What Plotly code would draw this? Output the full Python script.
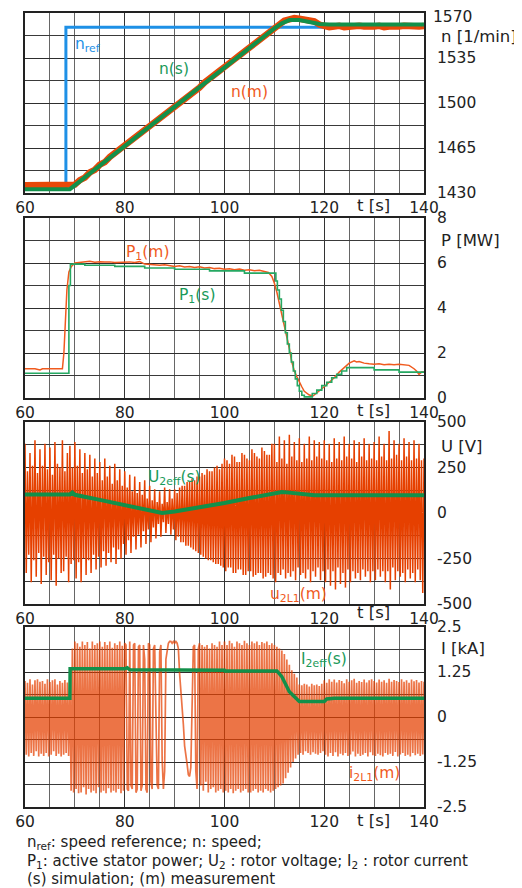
import numpy as np
import plotly.graph_objects as go

# ---------------- data ----------------
# Panel 1: speed
t_nref = [60, 68.2, 68.2, 140]
n_ref = [1433, 1433, 1559, 1559]

t_ns = [60, 69, 110, 111.5, 113, 115, 117, 119, 121, 140]
n_s = [1433, 1433, 1558, 1562, 1564.5, 1564.5, 1563, 1561.5, 1561, 1561]

t_nm = list(range(60, 141))
n_m = [1436, 1436, 1436.5, 1436, 1436, 1435.5, 1436, 1436, 1436, 1436,
       1436.5, 1440, 1442, 1446, 1448, 1452, 1454, 1458, 1461, 1463,
       1467, 1470, 1472, 1476.5, 1479, 1482, 1485.5, 1488, 1491.5, 1494,
       1497.5, 1500, 1503.5, 1506.5, 1509.5, 1512, 1516, 1518.5, 1521.5, 1525,
       1528, 1530.5, 1534, 1537, 1540, 1543, 1546, 1549, 1552, 1555,
       1558.5, 1562, 1564, 1565, 1566, 1565.5, 1565, 1564.5, 1563.5, 1561,
       1559.5, 1559, 1559.5, 1560, 1559, 1559.5, 1559, 1560, 1559.5, 1559,
       1559.5, 1560, 1559, 1559.5, 1559, 1559.5, 1560, 1559.5, 1559, 1559.5, 1560]

# Panel 2: active stator power
t_ps = [60, 68.8, 69.1, 72, 78, 84, 90, 97, 104, 110.3, 110.6, 111, 111.4, 111.8,
        112.2, 112.6, 113, 113.4, 113.8, 114.2, 114.6, 115, 115.5, 116, 117.6, 118.5,
        119.5, 120.5, 121.5, 122.5, 123.5, 124.5, 130, 135, 140]
p_s = [1.1, 5.0, 5.95, 5.9, 5.85, 5.78, 5.72, 5.65, 5.55, 5.2, 4.8, 4.4, 3.9, 3.4,
       2.9, 2.4, 2.0, 1.6, 1.2, 0.85, 0.55, 0.3, 0.12, 0.05, 0.2, 0.35,
       0.55, 0.7, 0.9, 1.05, 1.2, 1.35, 1.25, 1.15, 1.15]

t_pm = [60, 62, 63, 63.5, 64, 67.5, 67.8, 68.1, 68.4, 68.8, 69.3, 70, 71, 72, 73, 74, 75,
        76, 77, 78, 79, 80, 81, 82, 83, 84, 85, 86, 87, 88, 89, 90, 91, 92, 93, 94, 95,
        96, 97, 98, 99, 100, 101, 102, 103, 104, 105, 106, 107, 108, 108.8, 109.5, 110,
        110.5, 111, 111.5, 112, 112.5, 113, 113.5, 114, 114.5, 115, 115.5, 116, 117, 117.8,
        119, 120, 121, 122, 123, 124, 125, 126, 126.5, 127, 128, 129, 130, 131, 132, 133,
        134, 135, 136, 137, 138, 138.5, 139, 139.5, 140]
p_m = [1.3, 1.3, 1.25, 1.3, 1.3, 1.3, 2.0, 3.5, 4.8, 5.6, 5.85, 6.0, 6.02, 6.05, 6.08, 6.03, 6.06,
       6.04, 6.05, 6.02, 6.04, 6.03, 6.05, 6.02, 6.06, 5.95, 5.93, 5.94, 5.9, 5.92, 5.88, 5.85, 5.88, 5.82, 5.84, 5.8, 5.83,
       5.78, 5.8, 5.75, 5.77, 5.72, 5.74, 5.7, 5.73, 5.68, 5.7, 5.66, 5.68, 5.62, 5.58, 5.4, 5.1,
       4.7, 4.2, 3.8, 3.3, 2.8, 2.2, 1.6, 1.2, 0.95, 0.7, 0.5, 0.3, 0.13, 0.1,
       0.3, 0.5, 0.7, 0.9, 1.15, 1.35, 1.55, 1.65, 1.6, 1.62, 1.55, 1.52, 1.5, 1.52, 1.48, 1.5,
       1.48, 1.5, 1.48, 1.45, 1.3, 1.2, 1.05, 1.15, 1.15]

# Panel 3: rotor voltage (measured peaks every 0.5 s, upper then lower)
u_upper = [380, 230, 330, 260, 400, 220, 350, 260, 380, 240, 360, 210, 390, 270, 250, 400, 230, 330, 370, 250,
           390, 260, 350, 220, 330, 240, 320, 200, 300, 220, 280, 180, 300, 200, 260, 160, 270, 180, 240, 150,
           230, 140, 210, 120, 200, 110, 170, 100, 180, 80, 150, 70, 130, 60, 120, 50, 140, 60, 130, 80,
           130, 110, 140, 150, 150, 170, 170, 190, 180, 200, 200, 220, 210, 240, 230, 230, 250, 260, 240, 270,
           300, 290, 270, 320, 310, 280, 280, 330, 320, 300, 290, 350, 330, 310, 300, 360, 340, 320, 320, 380,
           380, 280, 420, 300, 400, 270, 430, 310, 390, 290, 410, 280, 380, 300, 420, 290, 400, 310, 390, 300,
           400, 290, 380, 280, 410, 300, 390, 290, 420, 310, 380, 300, 400, 280, 390, 310, 410, 290, 380, 300,
           390, 290, 420, 310, 380, 290, 450, 300, 400, 320, 380, 290, 410, 310, 390, 290, 400, 300, 380, 290, 300]
u_lower = [-330, -230, -380, -260, -350, -220, -390, -240, -340, -270, -370, -230, -400, -250, -330, -320, -240, -380, -280, -260,
           -360, -270, -380, -250, -340, -260, -330, -230, -310, -240, -300, -210, -290, -220, -270, -190, -280, -200, -250, -170,
           -230, -150, -220, -130, -200, -120, -190, -100, -170, -90, -160, -80, -140, -60, -130, -50, -110, -60, -120, -90,
           -150, -130, -160, -160, -180, -180, -190, -200, -210, -220, -230, -240, -250, -260, -260, -270, -280, -280, -290, -300,
           -320, -300, -300, -330, -330, -310, -310, -340, -340, -320, -320, -350, -340, -330, -330, -360, -350, -330, -340, -360,
           -380, -330, -340, -310, -360, -330, -350, -320, -370, -300, -340, -330, -360, -310, -380, -320, -350, -300, -370, -320,
           -380, -310, -400, -320, -420, -300, -390, -330, -410, -310, -380, -320, -360, -330, -370, -310, -350, -320, -380, -320,
           -370, -310, -350, -320, -380, -320, -420, -300, -370, -320, -350, -330, -380, -310, -360, -330, -380, -310, -370, -440, -300]

t_us = [60, 69, 69.5, 70, 75, 80, 85, 87.5, 90, 95, 100, 105, 110, 111.5, 113, 118, 140]
u_s = [102, 102, 112, 100, 72, 45, 15, 0, 8, 30, 55, 82, 105, 115, 112, 98, 97]

# Panel 4: rotor current (measured, every 0.25 s)
i_m = [1.0, -1.05, 0.95, -1.1, 1.05, -1.0, 0.9, -1.08, 1.02, -0.95, 1.05, -1.1, 0.98, -1.02, 1.0, -1.08, 0.92, -1.0, 1.05, -1.1,
       0.97, -1.05, 1.02, -0.95, 1.05, -1.08, 0.9, -1.02, 1.0, -1.1, 0.95, -1.05, 1.03, -1.0, 0.96, -1.08, 1.0, -2.05, 1.9, -2.1,
       2.1, -2.0, 2.05, -2.12, 1.95, -2.1, 2.1, -1.95, 2.0, -2.15, 2.08, -2.0, 1.9, -2.1, 2.1, -2.05, 2.0, -2.12, 2.05, -1.95,
       2.1, -2.1, 1.95, -2.05, 2.08, -2.12, 2.0, -1.98, 2.1, -2.1, 1.92, -2.05, 2.05, -2.1, 2.0, -2.0, 2.1, -2.12, 1.98, -2.05,
       2.05, 2.0, -2.0, -2.05, 2.1, -1.9, -2.0, 2.0, 2.05, -2.1, -2.0, 1.95, 2.0, -2.05, -1.9, 2.0, 1.6, -2.0, -2.1, 2.05,
       2.0, -1.8, -2.0, 1.9, 2.0, 0.5, -1.9, -2.0, 1.8, 2.0, -1.2, -2.0, -1.5, 1.6, 1.9, 2.05, 2.1, 2.1, 2.05, 2.1,
       2.05, 2.1, 2.05, 1.9, 1.2, 0.8, 0.3, -0.2, -0.8, -1.0, -1.3, -1.6, -1.65, -1.4, 0.2, 1.95, 2.0, -1.5, -2.0, 1.9,
       2.05, -1.9, 2.0, -2.05, 1.95, -1.8, 2.0, -2.1, 1.9, -2.0, 2.05, -1.95, 2.0, -2.1, 1.95, -2.05, 2.1, -2.0, 2.0, -2.1,
       2.1, -2.05, 2.0, -2.1, 2.12, -2.0, 2.05, -2.12, 1.95, -2.05, 2.1, -2.0, 2.05, -2.1, 2.0, -2.05, 2.12, -2.0, 2.05, -2.1,
       2.0, -2.1, 2.1, -2.05, 2.05, -2.0, 2.1, -2.1, 2.0, -2.05, 2.08, -2.1, 2.05, -2.0, 2.1, -2.05, 2.0, -2.1, 2.05, -2.05,
       2.0, -2.0, 1.95, -1.95, 1.9, -1.9, 1.85, -1.85, 1.75, -1.7, 1.6, -1.55, 1.45, -1.4, 1.3, -1.25, 1.2, -1.15, 1.1, -1.05,
       0.9, -1.0, 0.88, -1.05, 0.92, -0.95, 0.9, -1.0, 0.85, -1.05, 0.92, -0.98, 0.88, -1.02, 0.9, -1.05, 0.86, -1.0, 0.92, -0.95,
       1.02, -1.05, 0.95, -1.1, 1.05, -1.0, 0.98, -1.08, 1.04, -0.98, 0.96, -1.1, 1.03, -1.02, 1.0, -1.06, 0.94, -1.0, 1.05, -1.08,
       0.98, -1.04, 1.02, -0.96, 1.06, -1.1, 0.95, -1.02, 1.0, -1.08, 0.97, -1.05, 1.04, -1.0, 0.96, -1.1, 1.02, -0.98, 1.05, -1.06,
       1.0, -1.08, 0.96, -1.02, 1.04, -1.06, 0.98, -1.1, 1.02, -1.0, 0.95, -1.05, 1.06, -1.02, 0.98, -1.08, 1.03, -0.97, 1.0, -1.1,
       0.97, -1.04, 1.05, -1.0, 0.98, -1.08, 1.02, -1.05, 0.95, -1.1, 1.04, -1.0, 0.99, -1.06, 1.03, -1.02, 0.96, -1.08, 1.0, -1.04,
       0.98]

t_is = [60, 69, 69.05, 80, 80.5, 81, 100, 100.1, 110.5, 111.5, 113, 115, 120, 120.5, 122, 140]
i_s = [0.52, 0.52, 1.34, 1.34, 1.37, 1.31, 1.3, 1.28, 1.28, 1.12, 0.7, 0.43, 0.43, 0.5, 0.52, 0.52]

x_ticks = [60, 80, 100, 120, 140]
y1_ticks = [1430, 1465, 1500, 1535]      # top label "1570" drawn as a note (page edge)
y1_top_label = "1570"
y2_ticks = [0, 2, 4, 6, 8]
y3_ticks = [-500, -250, 0, 250, 500]
y4_ticks = [-2.5, -1.25, 0, 1.25, 2.5]

# ---------------- sampling grids for measured signals ----------------
t_u = []
u_m = []
for k in range(len(u_upper)):
    t_u += [60 + 0.5 * k, 60.25 + 0.5 * k]
    u_m += [u_upper[k], u_lower[k]]
t_i = list(60 + 0.25 * np.arange(len(i_m)))

# ---------------- style ----------------
OFF = 8                      # page body margin of the browser
W, H = 522 - OFF, 888 - OFF
FONT = "DejaVu Sans"
RED = "#e84808"
RED2 = "#f05a1e"
GREEN = "#12904a"
GREEN2 = "#25a862"
BLUE = "#1e90e6"

X0, X1 = 25, 424
panels = [(13, 193), (218, 398), (422, 604), (627, 807)]

def px(x):
    return (x - OFF) / W

def py(y):
    return 1 - (y - OFF) / H

fig = go.Figure()

def add(x, y, k, color, width, shape="linear", opacity=1.0):
    fig.add_trace(go.Scatter(x=x, y=y, mode="lines", xaxis="x" if k == 1 else f"x{k}",
                             yaxis="y" if k == 1 else f"y{k}", opacity=opacity,
                             line=dict(color=color, width=width, shape=shape),
                             hoverinfo="skip", showlegend=False))

add(t_nref, n_ref, 1, BLUE, 3)
add(t_nm, n_m, 1, RED, 6.5)
add(t_ns, n_s, 1, GREEN, 4)
add(t_pm, p_m, 2, RED2, 1.5)
add(t_ps, p_s, 2, GREEN2, 1.6, shape="hv")
add(t_u, u_m, 3, "#e64000", 1.5)
add(t_us, u_s, 3, GREEN, 4)
add(t_i, i_m, 4, "#e64000", 1.7, opacity=0.72)
add(t_is, i_s, 4, GREEN, 3.5)

yinfo = [((1430, 1570), y1_ticks, 17.5, 1430),
         ((0, 8), y2_ticks, 1, 0),
         ((-500, 500), y3_ticks, 125, -500),
         ((-2.5, 2.5), y4_ticks, 0.625, -2.5)]

layout = dict(width=W, height=H, margin=dict(l=0, r=0, t=0, b=0), autosize=False,
              paper_bgcolor="white", plot_bgcolor="white",
              font=dict(family=FONT, size=15, color="#222"))

for k, ((top, bot), (yr, yt, ymin, y0)) in enumerate(zip(panels, yinfo), start=1):
    xs = "xaxis" if k == 1 else f"xaxis{k}"
    ys = "yaxis" if k == 1 else f"yaxis{k}"
    layout[xs] = dict(domain=[px(X0), px(X1)], range=[60, 140], anchor="y" if k == 1 else f"y{k}",
                      automargin=False, ticklabeloverflow="allow",
                      tickmode="array", tickvals=x_ticks, ticktext=[str(v) for v in x_ticks], ticks="",
                      showgrid=True, gridcolor="#333333", gridwidth=1.2,
                      minor=dict(tick0=60, dtick=5, showgrid=True, gridcolor="#666666", gridwidth=1.2),
                      showline=True, mirror=True, linecolor="#222", linewidth=1.6,
                      zeroline=False, tickfont=dict(size=15.5, family=FONT, color="#222"))
    layout[ys] = dict(domain=[py(bot), py(top)], range=list(yr), anchor="x" if k == 1 else f"x{k}",
                      automargin=False, ticklabeloverflow="allow",
                      side="right", tickmode="array", tickvals=yt, ticktext=[f"{v:g}" for v in yt], ticks="",
                      ticklabelstandoff=8,
                      showgrid=True, gridcolor="#2e2e2e", gridwidth=1.2,
                      minor=dict(tick0=y0, dtick=ymin, showgrid=True, gridcolor="#3a3a3a", gridwidth=1.2),
                      showline=True, mirror=True, linecolor="#222", linewidth=1.6,
                      zeroline=False, tickfont=dict(size=15.5, family=FONT, color="#222"))

fig.update_layout(**layout)

def note(text, x, y, color="#222", size=15.5, xanchor="center"):
    fig.add_annotation(text=text, x=px(x), y=py(y), xref="paper", yref="paper",
                       showarrow=False, xanchor=xanchor, yanchor="middle",
                       font=dict(family=FONT, size=size, color=color))

# top speed label (kept inside the page)
note(y1_top_label, 431, 17, xanchor="left")

# axis titles and t [s]
for ty, lab, ly in [(206, "n [1/min]", 36), (410, "P [MW]", 240), (612, "U [V]", 446), (820, "I [kA]", 648)]:
    note("t [s]", 373, ty, size=16.5)
    note(lab, 439, ly, size=16.5, xanchor="left")

# curve labels
note("n<sub>ref</sub>", 88, 45, color=BLUE)
note("n(s)", 174, 69, color="#1a9a5a")
note("n(m)", 249, 92, color=RED2)
note("P<sub>1</sub>(m)", 147, 253, color=RED2)
note("P<sub>1</sub>(s)", 197, 296, color="#1a9a5a")
note("U<sub>2eff</sub>(s)", 174, 478, color="#1a9a5a")
note("u<sub>2L1</sub>(m)", 298, 595, color=RED2)
note("I<sub>2eff</sub>(s)", 324, 660, color="#1a9a5a")
note("i<sub>2L1</sub>(m)", 374, 774, color=RED2)

# caption
note("n<sub>ref</sub>: speed reference; n: speed;", 25, 842, xanchor="left", size=15)
note("P<sub>1</sub>: active stator power; U<sub>2</sub> : rotor voltage; I<sub>2</sub> : rotor current", 25, 861, xanchor="left", size=15)
note("(s) simulation; (m) measurement", 25, 879, xanchor="left", size=15)

fig.write_html("out.html")
